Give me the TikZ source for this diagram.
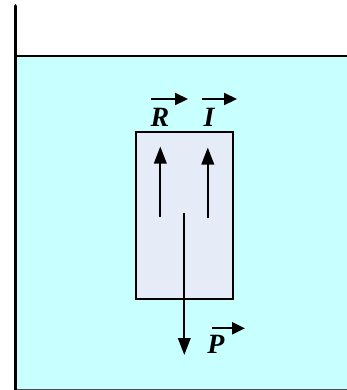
\documentclass[tikz,border=0pt]{standalone}
\usepackage{fontspec}
\setmainfont{Liberation Serif}
\usetikzlibrary{arrows.meta,calc}
\definecolor{water}{RGB}{200,255,255}
\definecolor{body}{RGB}{230,235,248}
\tikzset{
  force/.style={line width=2bp,-{Triangle[length=17bp,width=12.5bp]}},
  vec/.style={line width=2.2bp,-{Triangle[length=13bp,width=12bp]}},
  lbl/.style={font=\bfseries\itshape\fontsize{28}{28}\selectfont,inner sep=0pt,anchor=base}
}
\begin{document}
\begin{tikzpicture}[x=1bp,y=-1bp]
\useasboundingbox (0,0) rectangle (347,390);
% water
\fill[water] (16,56) rectangle (347,390);
\draw[line width=0.8bp,black!70] (16,389) -- (347,389);
\draw[line width=2.8bp] (16,56) -- (347,56);
\draw[line width=3.8bp,line cap=round] (15.5,6) -- (15.5,390);
% body
\node[draw,line width=1.8bp,fill=body,minimum width=97bp,minimum height=167bp,inner sep=0pt] (box) at (184.5,215.5) {};
% forces
\coordinate (r0) at (160.3,217);
\coordinate (r1) at (160.3,146.5);
\coordinate (i0) at (207.8,218);
\coordinate (i1) at (207.8,147.5);
\coordinate (p0) at (184.3,212.5);
\coordinate (p1) at (184.3,355);
\draw[force] (r0) -- (r1);
\draw[force] (i0) -- (i1);
\draw[force] (p0) -- (p1);
% labels
\node[lbl] (R) at (160,126.5) {R};
\node[lbl] (I) at (209,126.5) {I};
\node[lbl] (P) at (216,353) {P};
\draw[vec] ($(R.base)+(-9,-27.5)$) -- ($(R.base)+(28,-27.5)$);
\draw[vec] ($(I.base)+(-7,-27.5)$) -- ($(I.base)+(28,-27.5)$);
\draw[vec] ($(P.base)+(-4,-24.7)$) -- ($(P.base)+(29,-24.7)$);
\end{tikzpicture}
\end{document}
